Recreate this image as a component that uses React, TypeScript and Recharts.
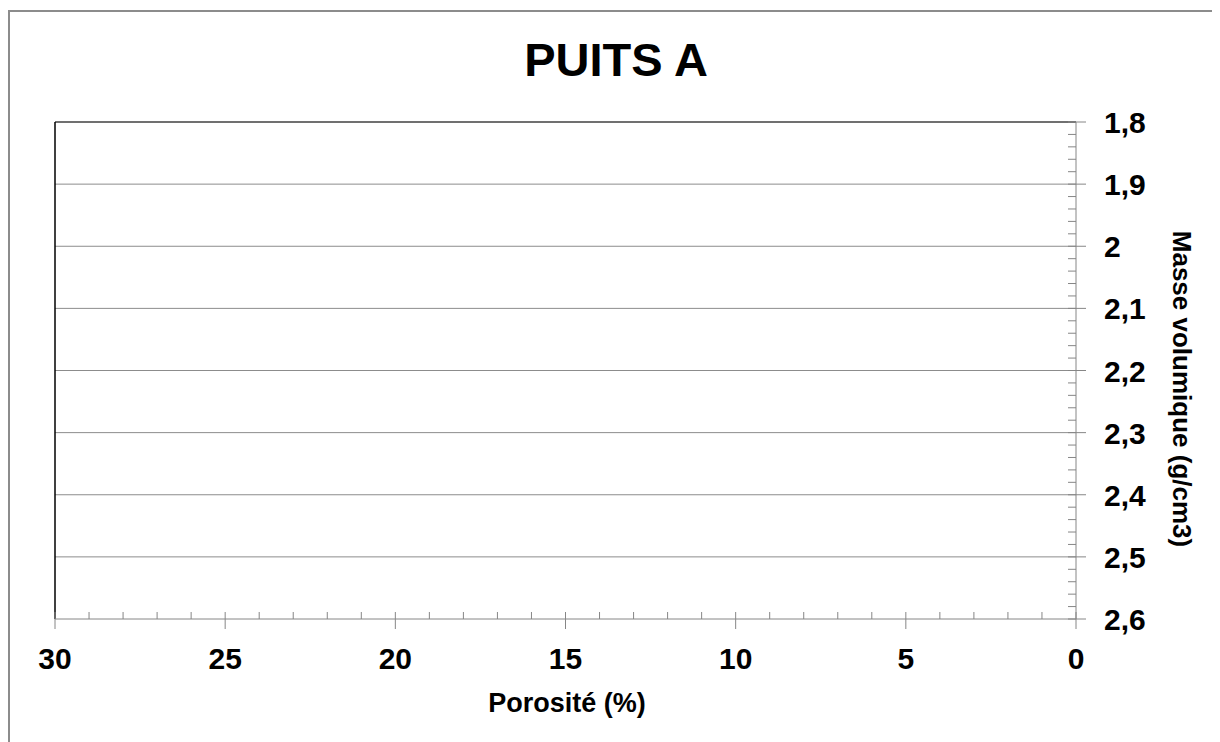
import { ReferenceLine, Scatter, ScatterChart, XAxis, YAxis } from 'recharts';

// the reference chart holds no points at all, only the empty frame
const points: { porosite: number; masse: number }[] = [];

const xMajor = [0, 5, 10, 15, 20, 25, 30];
const xTicks = Array.from({ length: 31 }, (_, i) => i);
const yMajor = [1.8, 1.9, 2.0, 2.1, 2.2, 2.3, 2.4, 2.5, 2.6];
const yTicks = Array.from({ length: 41 }, (_, i) => Math.round((1.8 + i * 0.02) * 100) / 100);

const title = 'PUITS A';
const xTitle = 'Porosité (%)';
const yTitle = 'Masse volumique (g/cm3)';

const FONT = '"Liberation Sans", Arial, sans-serif';
const AXIS = '#868686';

const fmt = (v: number) => String(v).replace('.', ',');
const isMajorY = (v: number) => Math.abs(v * 10 - Math.round(v * 10)) < 1e-6;

const XTick = (props: any) => {
  const { x, y, payload } = props;
  const v = payload.value;
  const major = xMajor.includes(v);
  return (
    <g>
      <line x1={x} x2={x} y1={y - 7} y2={major ? y + 10 : y} stroke={AXIS} strokeWidth={1} />
      {major && (
        <text x={x} y={y + 50} textAnchor="middle" fontFamily={FONT} fontSize={30} fontWeight="bold" fill="#000">
          {fmt(v)}
        </text>
      )}
    </g>
  );
};

const YTick = (props: any) => {
  const { x, y, payload } = props;
  const v = payload.value;
  const major = isMajorY(v);
  return (
    <g>
      <line x1={x - 8} x2={major ? x + 10 : x} y1={y} y2={y} stroke={AXIS} strokeWidth={1} />
      {major && (
        <text x={x + 28} y={y + 11} textAnchor="start" fontFamily={FONT} fontSize={30} fontWeight="bold" fill="#000">
          {fmt(v)}
        </text>
      )}
    </g>
  );
};

export default function App() {
  return (
    <div style={{ position: 'relative', width: 1212, height: 734, fontFamily: FONT }}>
      <style>{'body{overflow:hidden}'}</style>
      <div
        style={{
          position: 'absolute',
          left: 0,
          top: 2,
          width: 1211,
          height: 732,
          boxSizing: 'border-box',
          borderTop: '2px solid #8c8c8c',
          borderLeft: '2px solid #8c8c8c',
          borderRight: '2px solid #8c8c8c',
        }}
      />
      <ScatterChart width={1212} height={734} margin={{ top: 114, right: 34, bottom: 63, left: 47 }}>
        {yMajor.slice(1, -1).map((v) => (
          <ReferenceLine key={v} y={v} stroke="#8c8c8c" strokeWidth={1} />
        ))}
        <ReferenceLine y={1.8} stroke="#404040" strokeWidth={1.5} />
        <ReferenceLine x={30} stroke="#000" strokeWidth={1.5} />
        <XAxis
          type="number"
          dataKey="porosite"
          domain={[0, 30]}
          reversed
          allowDataOverflow
          ticks={xTicks}
          interval={0}
          tickLine={false}
          tickSize={0}
          tickMargin={0}
          height={60}
          axisLine={{ stroke: AXIS }}
          tick={XTick}
        />
        <YAxis
          type="number"
          dataKey="masse"
          orientation="right"
          domain={[1.8, 2.6]}
          reversed
          allowDataOverflow
          ticks={yTicks}
          interval={0}
          tickLine={false}
          tickSize={0}
          tickMargin={0}
          width={110}
          axisLine={{ stroke: AXIS }}
          tick={YTick}
        />
        <Scatter data={points} fill="#000" isAnimationActive={false} />
      </ScatterChart>
      <div
        style={{
          position: 'absolute',
          left: 608,
          top: 28,
          transform: 'translateX(-50%)',
          fontSize: 47,
          fontWeight: 'bold',
          lineHeight: 1,
          whiteSpace: 'nowrap',
        }}
      >
        {title}
      </div>
      <div
        style={{
          position: 'absolute',
          left: 559,
          top: 682,
          transform: 'translateX(-50%)',
          fontSize: 27,
          fontWeight: 'bold',
          lineHeight: 1,
          whiteSpace: 'nowrap',
        }}
      >
        {xTitle}
      </div>
      <div
        style={{
          position: 'absolute',
          left: 1174,
          top: 381,
          transform: 'translate(-50%, -50%) rotate(90deg)',
          fontSize: 26,
          fontWeight: 'bold',
          lineHeight: 1,
          whiteSpace: 'nowrap',
        }}
      >
        {yTitle}
      </div>
    </div>
  );
}
